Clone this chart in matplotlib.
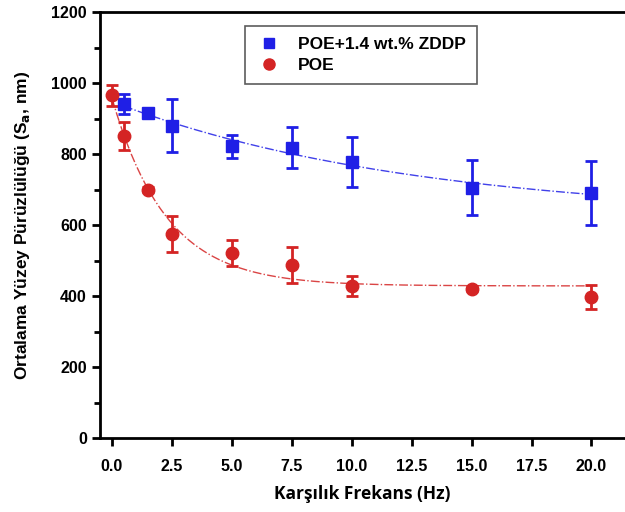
import numpy as np
import matplotlib
matplotlib.use("Agg")
import matplotlib.pyplot as plt
from matplotlib.ticker import MultipleLocator
from matplotlib.lines import Line2D

# Data
freq_zddp = [0.5, 1.5, 2.5, 5.0, 7.5, 10.0, 15.0, 20.0]
sa_zddp = [940, 915, 880, 822, 818, 778, 705, 690]
err_zddp = [28, 10, 75, 33, 57, 70, 77, 90]

freq_poe = [0.0, 0.5, 1.5, 2.5, 5.0, 7.5, 10.0, 15.0, 20.0]
sa_poe = [965, 850, 700, 575, 521, 488, 427, 421, 397]
err_poe = [30, 40, 8, 50, 37, 50, 28, 6, 34]


def exp_fit(x, y):
    # y = y0 + A*exp(-x/t), grid search on t, linear least squares for y0, A
    x = np.asarray(x, float)
    y = np.asarray(y, float)
    best = None
    for t in np.linspace(0.5, 30, 600):
        M = np.column_stack([np.ones_like(x), np.exp(-x / t)])
        coef, *_ = np.linalg.lstsq(M, y, rcond=None)
        res = np.sum((M @ coef - y) ** 2)
        if best is None or res < best[0]:
            best = (res, coef, t)
    _, (y0, a), t = best
    return lambda xx: y0 + a * np.exp(-xx / t)


plt.rcParams['font.family'] = ['Liberation Sans', 'DejaVu Sans']
plt.rcParams['font.weight'] = 'bold'

fig = plt.figure(figsize=(6.25, 5.12), dpi=100)
ax = fig.add_axes([0.16, 0.1445, 0.84, 0.832])

blue = '#1f1fe6'
red = '#d42424'

fz = exp_fit(freq_zddp, sa_zddp)
fp = exp_fit(freq_poe, sa_poe)
xz = np.linspace(0.5, 20, 200)
xp = np.linspace(0, 20, 200)
ax.plot(xz, fz(xz), color=blue, lw=1.0, ls='-.', alpha=0.85)
ax.plot(xp, fp(xp), color=red, lw=1.0, ls='-.', alpha=0.85)

ax.errorbar(freq_zddp, sa_zddp, yerr=err_zddp, fmt='s', color=blue, ms=8,
            elinewidth=2, capsize=4, capthick=2)
ax.errorbar(freq_poe, sa_poe, yerr=err_poe, fmt='o', color=red, ms=9,
            elinewidth=2, capsize=4, capthick=2)

ax.set_xlim(-0.5, 21.4)
ax.set_ylim(0, 1200)
ax.xaxis.set_major_locator(MultipleLocator(2.5))
ax.yaxis.set_major_locator(MultipleLocator(200))
ax.yaxis.set_minor_locator(MultipleLocator(100))
ax.tick_params(axis='both', which='major', direction='out', length=6, width=2,
               labelsize=11.5)
ax.tick_params(axis='x', which='major', pad=9)
ax.tick_params(axis='y', which='minor', direction='out', length=4, width=2)
for side in ['left', 'bottom', 'top']:
    ax.spines[side].set_linewidth(2)
ax.spines['right'].set_visible(False)

ax.set_ylabel('Ortalama Yüzey Pürüzlülüğü (S$_\\mathbf{a}$, nm)', fontsize=12.5,
              fontweight='bold', labelpad=14)
ax.set_xlabel('Karşılık Frekans (Hz)', fontsize=12.5, fontweight='bold',
              family=['Open Sans', 'DejaVu Sans'], labelpad=8)

handles = [
    Line2D([], [], ls='none', marker='s', ms=7, color=blue),
    Line2D([], [], ls='none', marker='o', ms=8, color=red),
]
labels = ['POE+1.4 wt.% ZDDP', 'POE']
leg = ax.legend(handles, labels, loc='upper left', bbox_to_anchor=(0.259, 0.988),
                fontsize=12.5, frameon=True, fancybox=False, edgecolor='#333333',
                handletextpad=0.9, borderpad=0.65, labelspacing=0.3,
                handlelength=1.5)
leg.get_frame().set_linewidth(1.2)

fig.savefig('out.png', dpi=100)
